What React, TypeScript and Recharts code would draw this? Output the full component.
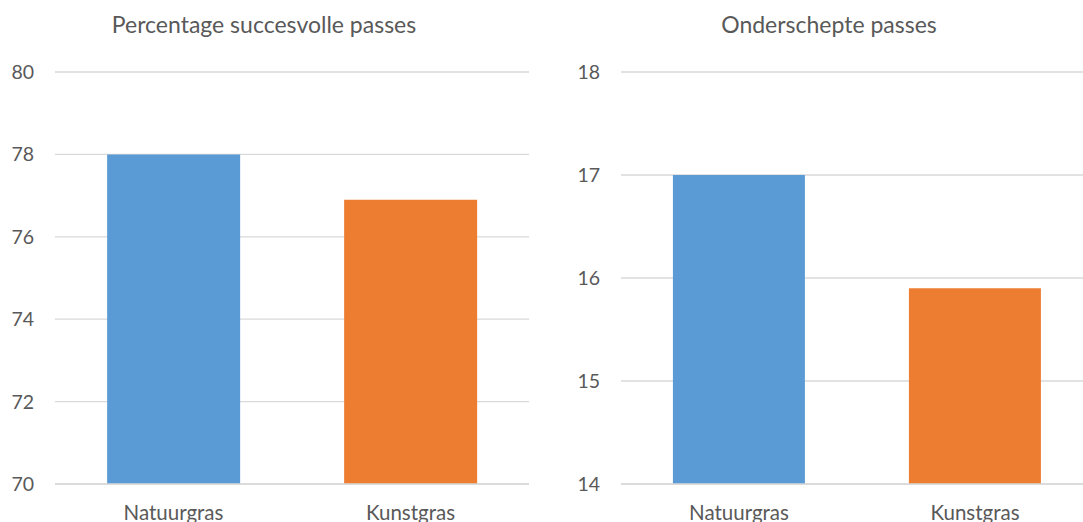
import React from 'react';
import { BarChart, Bar, XAxis, YAxis, CartesianGrid, Cell } from 'recharts';

const categories = ['Natuurgras', 'Kunstgras'];
const passPercentage = [78, 76.9];
const interceptedPasses = [17, 15.9];
const leftTicks = [70, 72, 74, 76, 78, 80];
const rightTicks = [14, 15, 16, 17, 18];
const barColors = ['#5B9BD5', '#ED7D31'];

const leftData = categories.map((c, i) => ({ name: c, value: passPercentage[i] }));
const rightData = categories.map((c, i) => ({ name: c, value: interceptedPasses[i] }));

const FONT = 'Lato, "Open Sans", sans-serif';
const TEXT = '#595959';

function Panel(props: {
  data: { name: string; value: number }[];
  ticks: number[];
  domain: [number, number];
  width: number;
  yWidth: number;
  rightMargin: number;
}) {
  const { data, ticks, domain, width, yWidth, rightMargin } = props;
  return (
    <BarChart
      width={width}
      height={522}
      data={data}
      margin={{ top: 72, right: rightMargin, bottom: 0, left: 0 }}
      barCategoryGap="22%"
    >
      <CartesianGrid vertical={false} stroke="#D9D9D9" strokeWidth={1.3} />
      <XAxis
        dataKey="name"
        height={38}
        axisLine={{ stroke: '#D9D9D9', strokeWidth: 1.3 }}
        tickLine={false}
        tickSize={0}
        tickMargin={21}
        tick={{ fill: TEXT, fontSize: 20.5, fontFamily: FONT }}
        interval={0}
      />
      <YAxis
        width={yWidth}
        domain={domain}
        ticks={ticks}
        axisLine={false}
        tickLine={false}
        tickSize={0}
        tickMargin={21}
        tick={{ fill: TEXT, fontSize: 19.5, fontFamily: FONT }}
        interval={0}
        allowDataOverflow
      />
      <Bar dataKey="value" isAnimationActive={false}>
        {data.map((d, i) => (
          <Cell key={d.name} fill={barColors[i]} />
        ))}
      </Bar>
    </BarChart>
  );
}

export default function App() {
  const titleStyle: React.CSSProperties = {
    position: 'absolute',
    top: 10,
    fontFamily: FONT,
    fontSize: 23,
    lineHeight: '28px',
    color: TEXT,
    textAlign: 'center',
    whiteSpace: 'nowrap',
    transform: 'translateX(-50%)',
  };
  return (
    <div
      style={{
        position: 'absolute',
        left: 0,
        top: 0,
        width: 1083,
        height: 522,
        overflow: 'hidden',
        background: '#fff',
      }}
    >
      <div style={{ position: 'absolute', left: 0, top: 0 }}>
        <Panel data={leftData} ticks={leftTicks} domain={[70, 80]} width={540} yWidth={55} rightMargin={11} />
      </div>
      <div style={{ position: 'absolute', left: 540, top: 0 }}>
        <Panel data={rightData} ticks={rightTicks} domain={[14, 18]} width={560} yWidth={81} rightMargin={7} />
      </div>
      <div style={{ ...titleStyle, left: 264 }}>Percentage succesvolle passes</div>
      <div style={{ ...titleStyle, left: 829 }}>Onderschepte passes</div>
    </div>
  );
}
